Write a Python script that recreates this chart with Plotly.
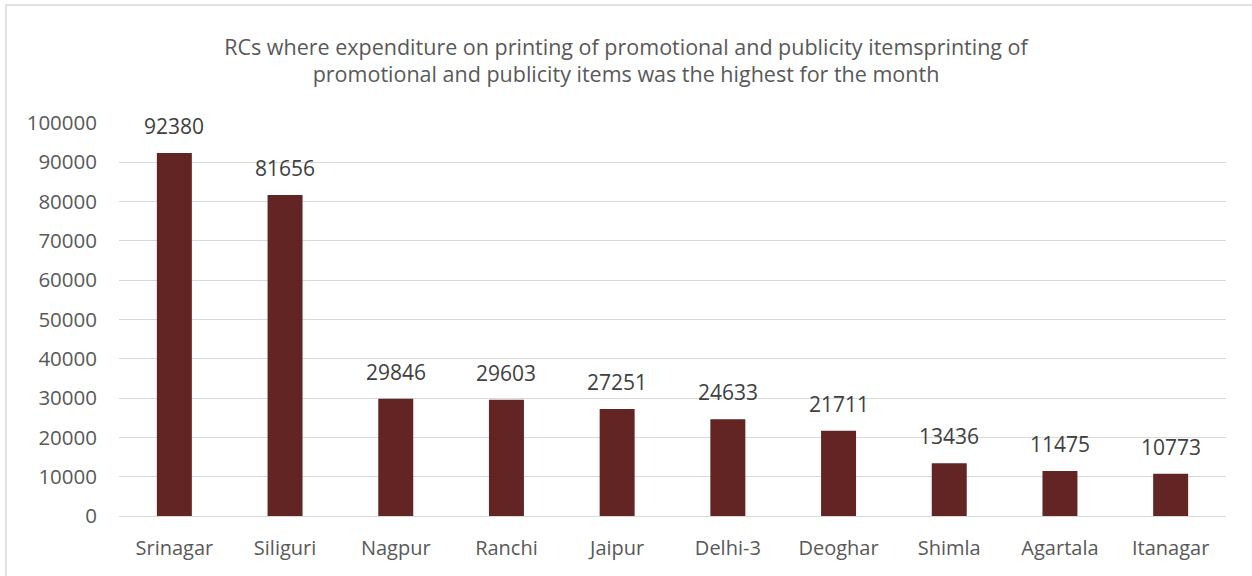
import plotly.graph_objects as go

categories = ["Srinagar", "Siliguri", "Nagpur", "Ranchi", "Jaipur", "Delhi-3",
              "Deoghar", "Shimla", "Agartala", "Itanagar"]
values = [92380, 81656, 29846, 29603, 27251, 24633, 21711, 13436, 11475, 10773]
y_ticks = list(range(0, 100001, 10000))
title_text = ("RCs where expenditure on printing of promotional and publicity itemsprinting of"
              "<br>promotional and publicity items was the highest for the month")

W, H = 1252, 576
L, R, T, B = 119, 26, 123, 60
pw, ph = W - L - R, H - T - B

def px_x(p):
    return (p - L) / pw

def px_y(p):
    return (H - B - p) / ph

FONT = "Open Sans, Calibri, Carlito, sans-serif"

fig = go.Figure(go.Bar(
    x=categories, y=values,
    marker=dict(color="#632523", line=dict(width=0)),
    hoverinfo="x+y",
))

for c, v in zip(categories, values):
    fig.add_annotation(x=c, y=v, text=str(v), showarrow=False,
                       yanchor="bottom", yshift=11,
                       font=dict(family=FONT, size=21, color="#404040"))

fig.update_layout(
    width=W, height=H,
    margin=dict(l=L, r=R, t=T, b=B),
    paper_bgcolor="white", plot_bgcolor="white",
    bargap=0.684,
    showlegend=False,
    title=dict(text=title_text, x=626 / W, xref="container", xanchor="center",
               y=1 - 54.5 / H, yref="container", yanchor="middle",
               font=dict(family=FONT, size=21.5, color="#595959")),
    font=dict(family=FONT, color="#595959"),
    shapes=[dict(type="rect", xref="paper", yref="paper",
                 x0=px_x(6), x1=px_x(1262), y0=px_y(590), y1=px_y(5),
                 line=dict(color="#d9d9d9", width=1.5), layer="below")],
)
fig.update_yaxes(range=[0, 100000], tickvals=y_ticks, ticktext=[str(v) for v in y_ticks],
                 showgrid=True, gridcolor="#d9d9d9", gridwidth=1.3,
                 zeroline=False, showline=False,
                 tickfont=dict(family=FONT, size=20.5, color="#595959"),
                 ticklabelstandoff=21)
fig.update_xaxes(showline=True, linecolor="#d9d9d9", linewidth=1.3,
                 tickfont=dict(family=FONT, size=20, color="#595959"),
                 ticks="", ticklabelstandoff=14)

fig.write_html("out.html", config={"displayModeBar": False},
               post_script="document.body.style.margin='0px';document.body.style.overflow='hidden';")
